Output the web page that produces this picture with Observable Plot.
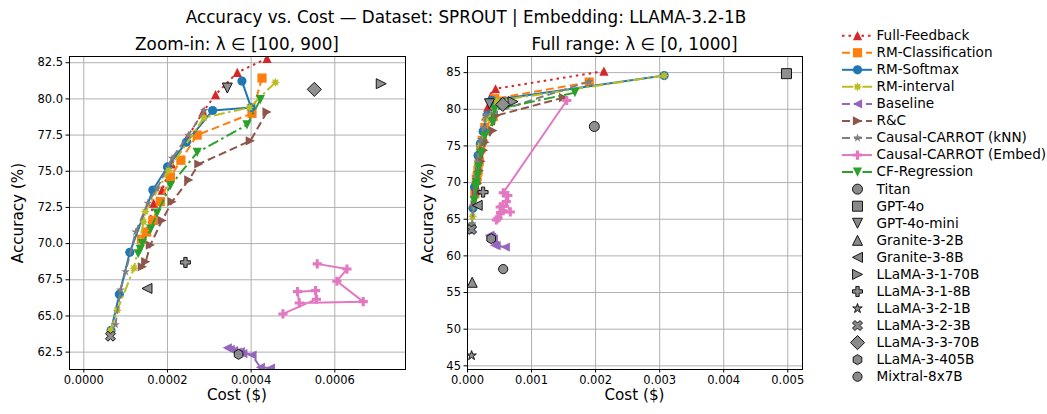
<!DOCTYPE html>
<html><head><meta charset="utf-8">
<script src="https://cdn.jsdelivr.net/npm/d3@7"></script>
<script src="https://cdn.jsdelivr.net/npm/@observablehq/plot@0.6"></script>
<style>
body{margin:0;background:#fff;font-family:"DejaVu Sans",sans-serif;}
#wrap{position:relative;width:1047px;height:414px;overflow:hidden;background:#fff;}
.t{position:absolute;white-space:nowrap;color:#000;line-height:1;}
.p{position:absolute;top:0;}
</style></head><body><div id="wrap"></div>
<script>
// ---------------- data ----------------
const lambdas = [0, 100, 200, 300, 400, 500, 600, 700, 800, 900, 1000];
const seriesNames = ["Full-Feedback","RM-Classification","RM-Softmax","RM-interval","Baseline","R&C","Causal-CARROT (kNN)","Causal-CARROT (Embed)","CF-Regression"];

const fullFeedbackCost = [0.00213, 0.000438, 0.000367, 0.000315, 0.000285, 0.000247, 0.000210, 0.000187, 0.000167, 0.000151, 0.000130];
const fullFeedbackAcc  = [85.2, 82.8, 81.83, 80.3, 79.1, 77.3, 75.5, 73.7, 72.8, 70.9, 69.5];

const rmClassCost = [0.00190, 0.000426, 0.000402, 0.000271, 0.000232, 0.000207, 0.000183, 0.000165, 0.000150, 0.000138, 0.000115];
const rmClassAcc  = [83.7, 81.44, 79.0, 77.5, 75.76, 74.6, 72.9, 71.6, 70.8, 70.3, 68.5];

const rmSoftCost = [0.00307, 0.000378, 0.000400, 0.000308, 0.000245, 0.000200, 0.000165, 0.000110, 0.000085, 0.000065, 0.000045];
const rmSoftAcc  = [84.6, 81.23, 79.4, 79.2, 77.0, 75.3, 73.7, 69.4, 66.5, 64.0, 63.6];

const rmIntCost = [0.00307, 0.000458, 0.000396, 0.000287, 0.000203, 0.000147, 0.000143, 0.000120, 0.000080, 0.000064, 0.000040];
const rmIntAcc  = [84.6, 81.14, 79.4, 78.7, 75.07, 72.2, 71.5, 68.3, 65.4, 64.0, 63.7];

const baselineCost = [0.00059, 0.000446, 0.000422, 0.000402, 0.000374, 0.000343, 0.000350, 0.000358, 0.000366, 0.000380, 0.000390];
const baselineAcc  = [61.2, 61.4, 61.45, 62.3, 62.54, 62.8, 62.7, 62.6, 62.5, 62.4, 62.3];

const rcCost = [0.00150, 0.000438, 0.000398, 0.000275, 0.000251, 0.000211, 0.000187, 0.000159, 0.000148, 0.000140, 0.000120];
const rcAcc  = [81.6, 79.1, 77.1, 75.5, 74.4, 72.9, 71.6, 69.9, 68.75, 68.4, 67.0];

const knnCost = [0.00190, 0.000288, 0.000250, 0.000211, 0.000175, 0.000153, 0.000124, 0.000100, 0.0000877, 0.0000757, 0.000050];
const knnAcc  = [83.8, 79.2, 77.5, 75.9, 73.8, 72.8, 70.8, 68.06, 66.8, 64.4, 63.6];

const embedCost = [0.00155, 0.000558, 0.000629, 0.000605, 0.000668, 0.000515, 0.000511, 0.000554, 0.000556, 0.000476, 0.000450];
const embedAcc  = [81.2, 68.6, 68.24, 67.4, 65.99, 65.9, 66.68, 66.75, 66.16, 65.14, 64.9];

const cfCost = [0.001676, 0.000422, 0.000390, 0.000271, 0.000207, 0.000175, 0.000160, 0.000140, 0.000135, 0.000130, 0.000105];
const cfAcc  = [82.27, 79.95, 78.2, 76.3, 74.0, 72.1, 71.0, 70.0, 69.6, 69.3, 67.5];

const modelNames = ["Titan","GPT-4o","GPT-4o-mini","Granite-3-2B","Granite-3-8B","LLaMA-3-1-70B","LLaMA-3-1-8B","LLaMA-3-2-1B","LLaMA-3-2-3B","LLaMA-3-3-70B","LLaMA-3-405B","Mixtral-8x7B"];
const modelCost = [0.00198, 0.00498, 0.000343, 0.0000733, 0.000151, 0.000711, 0.000243, 0.000064, 0.0000638, 0.000551, 0.00037, 0.000557];
const modelAcc  = [77.65, 84.86, 80.75, 56.4, 66.9, 81.05, 68.7, 46.4, 63.6, 80.66, 62.35, 58.2];

const leftXTicks = [0, 0.0002, 0.0004, 0.0006];
const leftYTicks = [62.5, 65, 67.5, 70, 72.5, 75, 77.5, 80, 82.5];
const rightXTicks = [0, 0.001, 0.002, 0.003, 0.004, 0.005];
const rightYTicks = [45, 50, 55, 60, 65, 70, 75, 80, 85];

// ---------------- symbols ----------------
function poly(pts) {
  return { draw(ctx, size) {
    const r = Math.sqrt(size / Math.PI);
    ctx.moveTo(pts[0][0] * r, pts[0][1] * r);
    for (let k = 1; k < pts.length; k++) ctx.lineTo(pts[k][0] * r, pts[k][1] * r);
    ctx.closePath();
  }};
}
function star(n, inner, rot) {
  const pts = [];
  for (let k = 0; k < 2 * n; k++) {
    const a = (rot - 90 + k * 180 / n) * Math.PI / 180;
    const rr = k % 2 ? inner : 1;
    pts.push([rr * Math.cos(a), rr * Math.sin(a)]);
  }
  return poly(pts);
}
function ngon(n, rot) {
  const pts = [];
  for (let k = 0; k < n; k++) {
    const a = (rot + k * 360 / n) * Math.PI / 180;
    pts.push([Math.cos(a), Math.sin(a)]);
  }
  return poly(pts);
}
const SYM = {
  circle: "circle",
  square: poly([[-1,-1],[1,-1],[1,1],[-1,1]]),
  diamond: poly([[0,-1.414],[1.414,0],[0,1.414],[-1.414,0]]),
  triUp: poly([[0,-1],[1,1],[-1,1]]),
  triDown: poly([[0,1],[1,-1],[-1,-1]]),
  triLeft: poly([[-1,0],[1,-1],[1,1]]),
  triRight: poly([[1,0],[-1,-1],[-1,1]]),
  star5: star(5, 0.381966, 0),
  star8: star(8, 0.55, 0),
  hexagon: ngon(6, -90),
  octagon: ngon(8, 22.5),
  plusFilled: poly([[-1,-3],[1,-3],[1,-1],[3,-1],[3,1],[1,1],[1,3],[-1,3],[-1,1],[-3,1],[-3,-1],[-1,-1]].map(([a,b]) => [a/3, b/3])),
  xFilled: poly([[-1,-2],[0,-1],[1,-2],[2,-1],[1,0],[2,1],[1,2],[0,1],[-1,2],[-2,1],[-1,0],[-2,-1]].map(([a,b]) => [a/2, b/2]))
};

// ---------------- styles ----------------
const seriesStyle = [
  {color:"#d62728", dash:"2.5,4",        symbol:SYM.triUp},
  {color:"#ff7f0e", dash:"8,4",          symbol:SYM.square},
  {color:"#1f77b4", dash:null,           symbol:SYM.circle},
  {color:"#bcbd22", dash:"11,3.5,2.5,3.5", symbol:SYM.star8},
  {color:"#9467bd", dash:"8,4",          symbol:SYM.triLeft},
  {color:"#8c564b", dash:"8,4",          symbol:SYM.triRight},
  {color:"#7f7f7f", dash:"8,4",          symbol:SYM.star5},
  {color:"#e377c2", dash:null,           symbol:SYM.plusFilled},
  {color:"#2ca02c", dash:"11,3.5,2.5,3.5", symbol:SYM.triDown}
];
const modelSymbols = [SYM.circle, SYM.square, SYM.triDown, SYM.triUp, SYM.triLeft, SYM.triRight, SYM.plusFilled, SYM.star5, SYM.xFilled, SYM.diamond, SYM.hexagon, SYM.circle];
const modelR = [5, 5, 5, 5, 5, 5, 5, 5, 5, 5, 5, 4.6];
const SERIES_R = 4.6;

const seriesCosts = [fullFeedbackCost, rmClassCost, rmSoftCost, rmIntCost, baselineCost, rcCost, knnCost, embedCost, cfCost];
const seriesAccs  = [fullFeedbackAcc, rmClassAcc, rmSoftAcc, rmIntAcc, baselineAcc, rcAcc, knnAcc, embedAcc, cfAcc];
const series = seriesNames.map((name, i) => ({
  name, ...seriesStyle[i],
  points: lambdas.map((lam, j) => ({lam, cost: seriesCosts[i][j], acc: seriesAccs[i][j]}))
}));
const models = modelNames.map((name, i) => ({name, cost: modelCost[i], acc: modelAcc[i], symbol: modelSymbols[i], r: modelR[i]}));

const FONT = "DejaVu Sans";
const GRID = {stroke: "#b0b0b0", strokeOpacity: 1, strokeWidth: 1};

function makePanel(o) {
  const marks = [
    Plot.gridX(o.xTicks, GRID),
    Plot.gridY(o.yTicks, GRID)
  ];
  for (const s of series) {
    const pts = s.points.filter(o.filter);
    marks.push(Plot.line(pts, {x: "cost", y: "acc", stroke: s.color, strokeWidth: 2, strokeDasharray: s.dash || undefined, strokeLinejoin: "round", strokeLinecap: "butt", clip: true}));
    marks.push(Plot.dot(pts, {x: "cost", y: "acc", fill: s.color, stroke: "none", r: SERIES_R, symbol: s.symbol, clip: true}));
  }
  for (const m of models) {
    marks.push(Plot.dot([m], {x: "cost", y: "acc", fill: "#8a8a8a", fillOpacity: 0.95, stroke: "#151515", strokeWidth: 1, r: m.r, symbol: m.symbol, clip: true}));
  }
  marks.push(Plot.frame({stroke: "#000", strokeWidth: 1}));
  marks.push(Plot.axisX(o.xTicks, {tickFormat: d3.format(o.xFmt), tickSize: 3.5, tickPadding: 3, label: null, fontSize: 11.5}));
  marks.push(Plot.axisY(o.yTicks, {tickFormat: d3.format(o.yFmt), tickSize: 3.5, tickPadding: 3, label: null, fontSize: 11.5}));
  const svg = Plot.plot({
    width: o.width, height: 414,
    marginLeft: o.ml, marginRight: o.mr, marginTop: 56, marginBottom: 45,
    x: {domain: o.xDomain, label: null},
    y: {domain: o.yDomain, label: null},
    style: {fontFamily: FONT, fontSize: "11.5px", background: "transparent", overflow: "visible", color: "#000"},
    marks
  });
  svg.classList.add("p");
  svg.style.left = o.left + "px";
  return svg;
}

const wrap = document.getElementById("wrap");
wrap.appendChild(makePanel({
  left: 0, width: 410, ml: 69, mr: 5,
  xDomain: [-0.0000342, 0.000769], yDomain: [61.3, 82.93],
  xTicks: leftXTicks, yTicks: leftYTicks, xFmt: ".4f", yFmt: ".1f",
  filter: d => d.lam >= 100 && d.lam <= 900
}));
wrap.appendChild(makePanel({
  left: 410, width: 410, ml: 57, mr: 18,
  xDomain: [0, 0.00523], yDomain: [44.5, 87.2],
  xTicks: rightXTicks, yTicks: rightYTicks, xFmt: ".3f", yFmt: "d",
  filter: d => true
}));

// ---------------- legend ----------------
const legendNames = [...seriesNames, ...modelNames];
const legendSeries = series.map((s, i) => ({...s, i}));
const legendModels = models.map((m, i) => ({...m, i: i + seriesNames.length}));
const legendMarks = [];
for (const s of legendSeries) {
  legendMarks.push(Plot.ruleY([s.i], {x1: 0, x2: 1, stroke: s.color, strokeWidth: 2, strokeDasharray: s.dash || undefined, strokeLinecap: "butt"}));
  legendMarks.push(Plot.dot([s.i], {x: 0.5, y: d => d, fill: s.color, stroke: "none", r: SERIES_R, symbol: s.symbol}));
}
for (const m of legendModels) {
  legendMarks.push(Plot.dot([m.i], {x: 0.5, y: d => d, fill: "#8a8a8a", stroke: "#151515", strokeWidth: 1, r: m.r, symbol: m.symbol}));
}
legendMarks.push(Plot.text(legendNames, {x: 1, y: (d, i) => i, dx: 4, text: d => d, textAnchor: "start", fontSize: 13.6, fill: "#000"}));
const legend = Plot.plot({
  width: 219, height: 414, margin: 0,
  x: {domain: [0, 1], range: [14, 44], axis: null},
  y: {domain: [0, legendNames.length - 1], range: [35.2, 376.2], axis: null},
  style: {fontFamily: FONT, background: "transparent", overflow: "visible"},
  marks: legendMarks
});
legend.classList.add("p");
legend.style.left = "828px";
wrap.appendChild(legend);

// ---------------- titles & axis labels ----------------
function addText(txt, x, y, size, rot) {
  const d = document.createElement("div");
  d.className = "t";
  d.textContent = txt;
  d.style.left = x + "px";
  d.style.top = y + "px";
  d.style.fontSize = size + "px";
  d.style.fontFamily = FONT;
  d.style.transform = "translate(-50%,-50%)" + (rot ? ` rotate(${rot}deg)` : "");
  wrap.appendChild(d);
}
addText("Accuracy vs. Cost — Dataset: SPROUT | Embedding: LLAMA-3.2-1B", 466, 17, 16.8);
addText("Zoom-in: λ ∈ [100, 900]", 237, 44, 16.8);
addText("Full range: λ ∈ [0, 1000]", 634.5, 44, 16.8);
addText("Cost ($)", 237, 396, 15.2);
addText("Cost ($)", 634.5, 396, 15.2);
addText("Accuracy (%)", 19, 212.5, 15.2, -90);
addText("Accuracy (%)", 429, 212.5, 15.2, -90);
</script></body></html>
